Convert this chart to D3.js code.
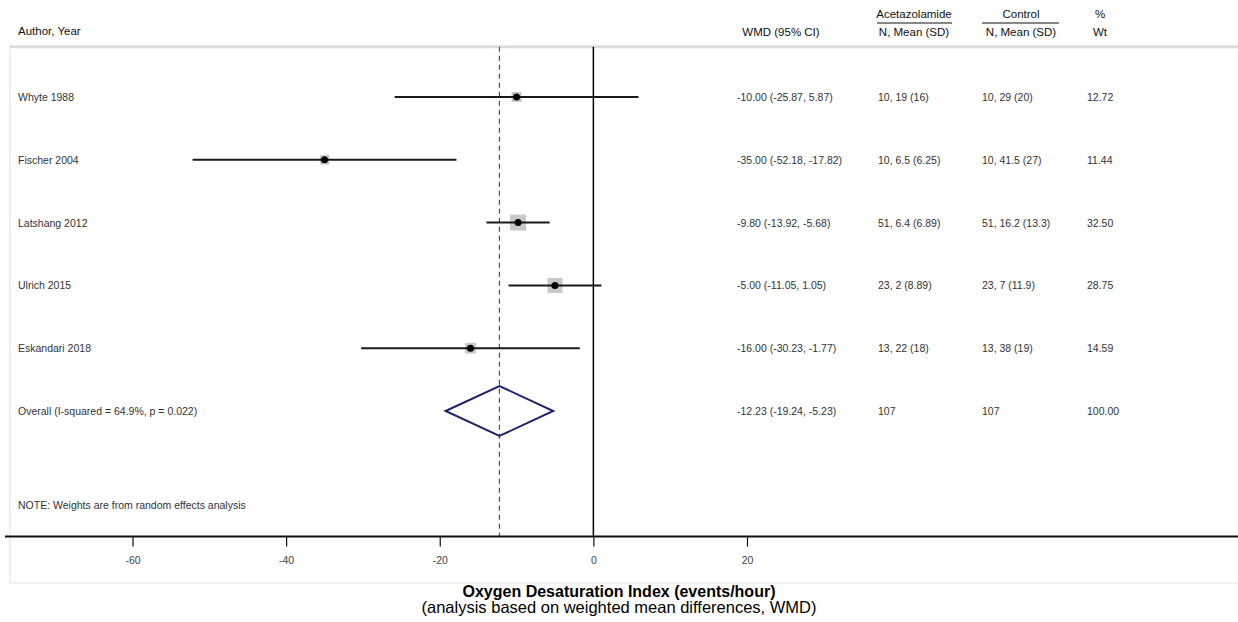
<!DOCTYPE html>
<html>
<head>
<meta charset="utf-8">
<script src="https://cdn.jsdelivr.net/npm/d3@7"></script>
<style>
  body { margin: 0; background: #fff; }
  svg { display: block; font-family: "Liberation Sans", Arial, sans-serif; }
</style>
</head>
<body>
<div id="chart"></div>
<script>
const studies = ['Whyte 1988', 'Fischer 2004', 'Latshang 2012', 'Ulrich 2015', 'Eskandari 2018']
const wmd = [-10.00, -35.00, -9.80, -5.00, -16.00]
const lower = [-25.87, -52.18, -13.92, -11.05, -30.23]
const upper = [5.87, -17.82, -5.68, 1.05, -1.77]
const acetazolamide = ['10, 19 (16)', '10, 6.5 (6.25)', '51, 6.4 (6.89)', '23, 2 (8.89)', '13, 22 (18)']
const control = ['10, 29 (20)', '10, 41.5 (27)', '51, 16.2 (13.3)', '23, 7 (11.9)', '13, 38 (19)']
const weights = [12.72, 11.44, 32.50, 28.75, 14.59]

const overallLabel = 'Overall  (I-squared = 64.9%, p = 0.022)'
const overallWmd = -12.23
const overallLower = -19.24
const overallUpper = -5.23
const overallN = ['107', '107']
const overallWeight = 100.00

const xTicks = [-60, -40, -20, 0, 20]

const width = 1238, height = 622

const svg = d3.select('#chart').append('svg')
    .attr('width', width)
    .attr('height', height)

const x = d3.scaleLinear().domain([-60, 20]).range([132.5, 747])
// row index -> vertical position
const y = d3.scaleLinear().domain([0, 1]).range([97, 159.8])

const fmt = v => v.toFixed(2)
const ciText = (m, l, u) => fmt(m) + ' (' + fmt(l) + ', ' + fmt(u) + ')'

const plotTop = y(-0.8), axisY = y(7)

// faint frame round the plot area
svg.append('rect')
    .attr('x', 10).attr('y', plotTop)
    .attr('width', width).attr('height', 583 - plotTop)
    .attr('fill', 'none')
    .attr('stroke', '#f0f0f0')
    .attr('stroke-width', 2)
svg.append('line')
    .attr('x1', 10).attr('x2', width)
    .attr('y1', plotTop).attr('y2', plotTop)
    .attr('stroke', '#dcdcdc')
    .attr('stroke-width', 3)

// headers
const head = svg.append('g').attr('font-size', 11.5).attr('fill', '#111')
head.append('text').attr('x', 18).attr('y', 35).text('Author, Year')
head.append('text').attr('x', 781).attr('y', 36).attr('text-anchor', 'middle').text('WMD (95% CI)')
const groups = [
    { name: 'Acetazolamide', cx: 914, x1: 877, x2: 952 },
    { name: 'Control', cx: 1021, x1: 982, x2: 1059 },
]
groups.forEach(g => {
    head.append('text').attr('x', g.cx).attr('y', 18).attr('text-anchor', 'middle').text(g.name)
    head.append('line').attr('x1', g.x1).attr('x2', g.x2).attr('y1', 23).attr('y2', 23)
        .attr('stroke', '#111').attr('stroke-width', 1)
    head.append('text').attr('x', g.cx).attr('y', 36).attr('text-anchor', 'middle').text('N, Mean (SD)')
})
head.append('text').attr('x', 1100).attr('y', 18).attr('text-anchor', 'middle').text('%')
head.append('text').attr('x', 1100).attr('y', 36).attr('text-anchor', 'middle').text('Wt')

// reference lines
svg.append('line')
    .attr('x1', x(0)).attr('x2', x(0))
    .attr('y1', plotTop).attr('y2', axisY)
    .attr('stroke', '#000').attr('stroke-width', 1.5)
svg.append('line')
    .attr('x1', x(overallWmd)).attr('x2', x(overallWmd))
    .attr('y1', plotTop).attr('y2', axisY)
    .attr('stroke', '#a52a2a').attr('stroke-width', 1.2)
    .attr('stroke-dasharray', '5,4')

// study rows
const rows = svg.append('g').attr('font-size', 10.5).attr('fill', '#333')
    .style('white-space', 'pre')
const boxSize = w => 2.8 * Math.sqrt(w)

studies.forEach((s, i) => {
    const cy = y(i)
    rows.append('text').attr('x', 18).attr('y', cy + 4).text(s)
    rows.append('text').attr('x', 737).attr('y', cy + 4).text(ciText(wmd[i], lower[i], upper[i]))
    rows.append('text').attr('x', 878).attr('y', cy + 4).text(acetazolamide[i])
    rows.append('text').attr('x', 982).attr('y', cy + 4).text(control[i])
    rows.append('text').attr('x', 1087).attr('y', cy + 4).text(weights[i].toFixed(2))

    const b = boxSize(weights[i])
    svg.append('rect')
        .attr('x', x(wmd[i]) - b / 2).attr('y', cy - b / 2)
        .attr('width', b).attr('height', b)
        .attr('fill', '#c8c8c8')
    svg.append('line')
        .attr('x1', x(lower[i])).attr('x2', x(upper[i]))
        .attr('y1', cy).attr('y2', cy)
        .attr('stroke', '#1a1a1a').attr('stroke-width', 2)
    svg.append('circle')
        .attr('cx', x(wmd[i])).attr('cy', cy).attr('r', 3.5)
        .attr('fill', '#000')
})

// overall row
const oy = y(5)
rows.append('text').attr('x', 18).attr('y', oy + 4).text(overallLabel)
rows.append('text').attr('x', 737).attr('y', oy + 4).text(ciText(overallWmd, overallLower, overallUpper))
rows.append('text').attr('x', 878).attr('y', oy + 4).text(overallN[0])
rows.append('text').attr('x', 982).attr('y', oy + 4).text(overallN[1])
rows.append('text').attr('x', 1087).attr('y', oy + 4).text(overallWeight.toFixed(2))

const dh = 25
svg.append('path')
    .attr('d', d3.line()([
        [x(overallLower), oy],
        [x(overallWmd), oy - dh],
        [x(overallUpper), oy],
        [x(overallWmd), oy + dh],
    ]) + 'Z')
    .attr('fill', 'none')
    .attr('stroke', '#1c2470')
    .attr('stroke-width', 2)

rows.append('text').attr('x', 18).attr('y', y(6.5) + 4).text('NOTE: Weights are from random effects analysis')

// x axis
svg.append('line')
    .attr('x1', 5).attr('x2', width)
    .attr('y1', axisY).attr('y2', axisY)
    .attr('stroke', '#111').attr('stroke-width', 2)

const xAxis = d3.axisBottom(x)
    .tickValues(xTicks)
    .tickSize(10)
    .tickPadding(10)
    .tickFormat(d => String(d))

const ax = svg.append('g')
    .attr('transform', 'translate(0,' + axisY + ')')
    .call(xAxis)
ax.select('.domain').remove()
ax.selectAll('.tick line').attr('stroke', '#111').attr('stroke-width', 1.2)
ax.selectAll('.tick text')
    .attr('font-family', '"Liberation Sans", Arial, sans-serif')
    .attr('font-size', 10.5)
    .attr('fill', '#444')

svg.append('text')
    .attr('x', width / 2).attr('y', 597)
    .attr('text-anchor', 'middle')
    .attr('font-size', 16).attr('font-weight', 'bold')
    .attr('fill', '#000')
    .text('Oxygen Desaturation Index (events/hour)')
svg.append('text')
    .attr('x', width / 2).attr('y', 613)
    .attr('text-anchor', 'middle')
    .attr('font-size', 16.5)
    .attr('fill', '#000')
    .text('(analysis based on weighted mean differences, WMD)')
</script>
</body>
</html>
